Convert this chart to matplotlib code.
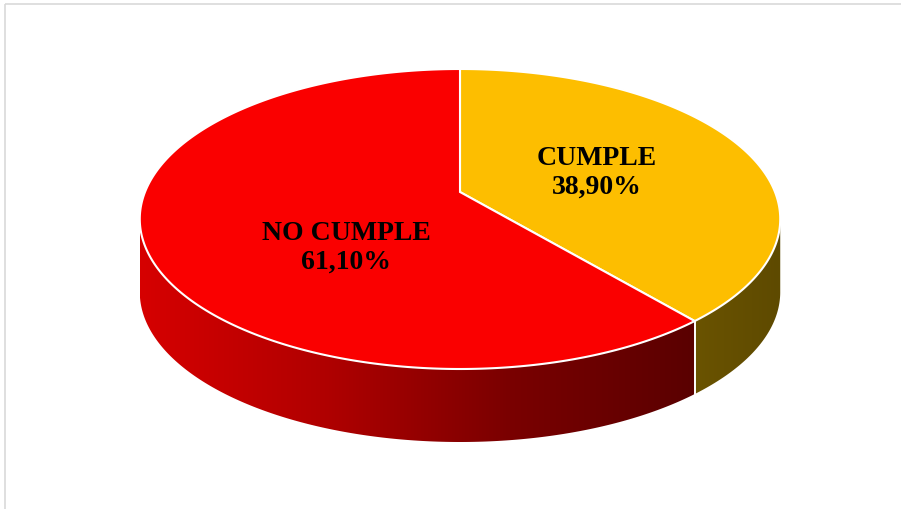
import numpy as np
import matplotlib.pyplot as plt
from matplotlib.colors import LinearSegmentedColormap
from matplotlib.patches import Polygon, Rectangle

# datos del grafico
etiquetas = ["CUMPLE", "NO CUMPLE"]
valores = [38.90, 61.10]
colores_tapa = ["#FDBE00", "#FA0000"]
colores_lado = [["#6a5300", "#5e4a00"], ["#d60000", "#b00000", "#7a0000", "#5a0000"]]

# geometria del pastel en pixeles (perspectiva)
cx, A = 460.0, 315.0
k, B, C = 0.18, -110.4, 193.0
prof = 73.0


def punto(t):
    u, v = np.cos(t), np.sin(t)
    den = 1 + k * v
    return cx + A * u / den, (B * v + C) / den


fig = plt.figure(figsize=(9.01, 5.10), dpi=100)
ax = fig.add_axes([0, 0, 1, 1])

# marco
ax.add_patch(Rectangle((5, 5), 1200, 1200, fill=False, edgecolor="#d9d9d9", lw=1.2))

# angulos: desde arriba en sentido horario
total = sum(valores)
t_ini = np.pi / 2
rangos = []
for v in valores:
    t_fin = t_ini - 2 * np.pi * v / total
    rangos.append((t_fin, t_ini))
    t_ini = t_fin

# limites visibles del costado
t_izq = np.pi + np.arcsin(k)
t_der = 2 * np.pi - np.arcsin(k)

# costados con degradado
for (a, b), cols in zip(rangos, colores_lado):
    for off in (0, 2 * np.pi, -2 * np.pi):
        lo, hi = max(a + off, t_izq), min(b + off, t_der)
        if hi <= lo:
            continue
        tt = np.linspace(lo, hi, 200)
        xs, ys = punto(tt)
        px = np.concatenate([xs, xs[::-1]])
        py = np.concatenate([ys, ys[::-1] + prof])
        poly = Polygon(np.column_stack([px, py]), closed=True, facecolor="none",
                       edgecolor="none")
        ax.add_patch(poly)
        cmap = LinearSegmentedColormap.from_list("g", cols)
        grad = np.linspace(0, 1, 256)[None, :]
        im = ax.imshow(grad, cmap=cmap, aspect="auto",
                       extent=(xs.min(), xs.max(), py.max(), py.min()), zorder=1)
        im.set_clip_path(poly)
        # separacion blanca entre costados
        for xe, ye in ((xs[0], ys[0]), (xs[-1], ys[-1])):
            if t_izq + 1e-6 < tt[0] and xe == xs[0] or tt[-1] < t_der - 1e-6 and xe == xs[-1]:
                ax.plot([xe, xe], [ye, ye + prof], color="white", lw=1.2, zorder=2)

ax.set_xlim(0, 901)
ax.set_ylim(510, 0)
ax.axis("off")

# tapas
for (a, b), col in zip(rangos, colores_tapa):
    tt = np.linspace(a, b, 300)
    xs, ys = punto(tt)
    px = np.concatenate([[cx], xs, [cx]])
    py = np.concatenate([[C], ys, [C]])
    ax.fill(px, py, facecolor=col, edgecolor="white", lw=1.5, zorder=3, joinstyle="miter")

# etiquetas
fuente = dict(family="Liberation Serif", weight="bold", size=20, ha="center", va="center",
              linespacing=1.2, zorder=5)
ax.text(597, 173, "%s\n%s%%" % (etiquetas[0], ("%.2f" % valores[0]).replace(".", ",")), **fuente)
ax.text(346, 248, "%s\n%s%%" % (etiquetas[1], ("%.2f" % valores[1]).replace(".", ",")), **fuente)

fig.savefig("out.png", dpi=100)
